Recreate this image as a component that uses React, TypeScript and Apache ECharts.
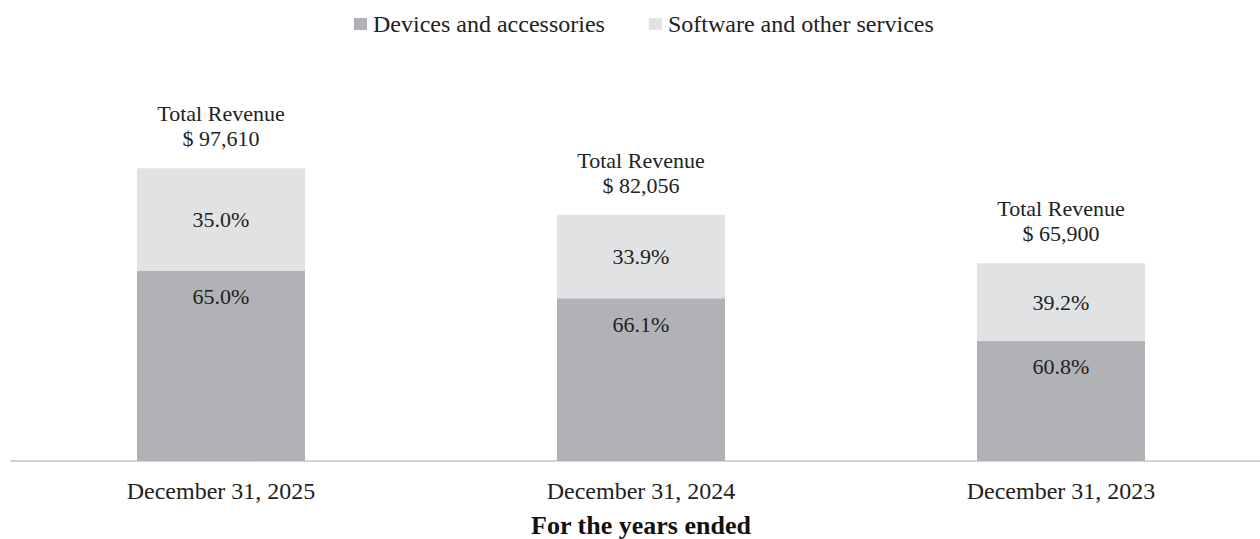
import React, { useEffect, useRef } from "react";
import * as echarts from "echarts";

const categories = ["December 31, 2025", "December 31, 2024", "December 31, 2023"];
const totals = [97610, 82056, 65900];
const devicesValues = [63447, 54239, 40067];
const softwareValues = [34163, 27817, 25833];
const devicesPct = ["65.0%", "66.1%", "60.8%"];
const softwarePct = ["35.0%", "33.9%", "39.2%"];
const legendNames = ["Devices and accessories", "Software and other services"];
const axisTitle = "For the years ended";

const FONT = "'Liberation Serif', 'Times New Roman', serif";

export default function App() {
  const ref = useRef<HTMLDivElement>(null);
  useEffect(() => {
    if (!ref.current) return;
    const chart = echarts.init(ref.current, null, { renderer: "svg" });
    chart.setOption({
      animation: false,
      backgroundColor: "#ffffff",
      textStyle: { fontFamily: FONT },
      legend: {
        data: legendNames,
        left: 354,
        top: 12,
        padding: 0,
        icon: "rect",
        itemWidth: 13,
        itemHeight: 12,
        itemGap: 44,
        textStyle: { fontFamily: FONT, fontSize: 24, color: "#222222", padding: [0, 0, 0, 1] },
      },
      grid: { left: 11, right: -11, top: 161, bottom: 78, containLabel: false, outerBoundsMode: "none" },
      xAxis: {
        type: "category",
        data: categories,
        axisLine: { lineStyle: { color: "#c4c4c4", width: 1.5 } },
        axisTick: { show: false },
        axisLabel: { fontFamily: FONT, fontSize: 24, color: "#222222", margin: 18 },
        name: axisTitle,
        nameLocation: "middle",
        nameGap: 51,
        nameTextStyle: { fontFamily: FONT, fontSize: 26, fontWeight: "bold", color: "#111111" },
      },
      yAxis: { type: "value", min: 0, max: 100000, show: false, splitLine: { show: false } },
      series: [
        {
          name: legendNames[0],
          type: "bar",
          stack: "rev",
          barWidth: 168,
          data: devicesValues,
          itemStyle: { color: "#b1b2b5" },
          label: {
            show: true,
            position: "insideTop",
            distance: 15,
            fontFamily: FONT,
            fontSize: 22,
            color: "#222222",
            formatter: (p: any) => devicesPct[p.dataIndex],
          },
        },
        {
          name: legendNames[1],
          type: "bar",
          stack: "rev",
          barWidth: 168,
          data: softwareValues,
          itemStyle: { color: "#e1e2e4" },
          label: {
            show: true,
            position: "inside",
            fontFamily: FONT,
            fontSize: 22,
            color: "#222222",
            formatter: (p: any) => softwarePct[p.dataIndex],
          },
        },
        {
          name: "total",
          type: "bar",
          stack: "rev",
          barWidth: 168,
          data: totals.map(() => 0),
          itemStyle: { color: "transparent" },
          label: {
            show: true,
            position: "top",
            distance: 17,
            fontFamily: FONT,
            fontSize: 22,
            lineHeight: 25,
            color: "#222222",
            formatter: (p: any) =>
              "Total Revenue\n$ " + totals[p.dataIndex].toLocaleString("en-US"),
          },
        },
      ],
    });
    return () => chart.dispose();
  }, []);
  return (
    <div
      ref={ref}
      style={{ position: "fixed", left: 0, top: 0, width: 1260, height: 539 }}
    />
  );
}
